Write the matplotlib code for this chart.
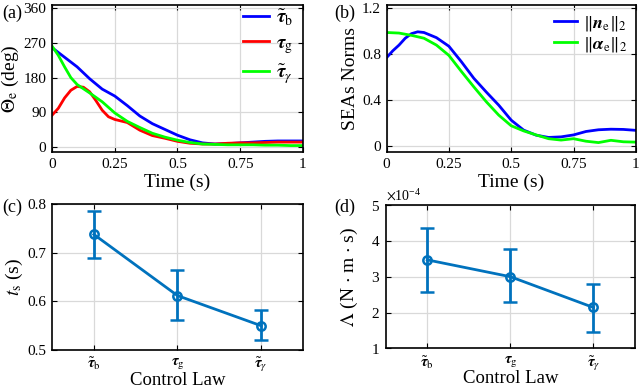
import matplotlib
matplotlib.use('Agg')
from matplotlib import pyplot as plt
from matplotlib.ticker import FormatStrFormatter, ScalarFormatter

plt.rcParams['font.family'] = ['Liberation Serif', 'DejaVu Serif']
plt.rcParams['mathtext.fontset'] = 'stix'

# (a) error angle for each control law
t_b = [0, 0.05, 0.1, 0.15, 0.2, 0.25, 0.3, 0.35, 0.4, 0.45, 0.5, 0.55, 0.6, 0.65, 0.7, 0.75, 0.8, 0.85, 0.9, 0.95, 1.0]
theta_b = [258, 233, 208, 177, 150, 132, 107, 80, 60, 45, 30, 18, 10, 7, 8, 10, 12, 14, 15, 15, 15]
t_g = [0, 0.025, 0.05, 0.075, 0.1, 0.125, 0.15, 0.175, 0.2, 0.225, 0.25, 0.3, 0.35, 0.4, 0.45, 0.5, 0.55, 0.6, 0.65, 0.7, 0.75, 0.8, 0.85, 0.9, 0.95, 1.0]
theta_g = [82, 100, 127, 147, 157, 155, 143, 120, 95, 78, 71, 63, 43, 29, 22, 14, 9, 7, 7, 9, 10, 10, 11, 12, 12, 12]
t_y = [0, 0.025, 0.05, 0.075, 0.1, 0.15, 0.2, 0.25, 0.3, 0.35, 0.4, 0.45, 0.5, 0.55, 0.6, 0.65, 0.7, 0.75, 0.8, 0.85, 0.9, 0.95, 1.0]
theta_y = [262, 238, 208, 180, 162, 140, 117, 88, 66, 50, 35, 25, 17, 11, 7, 6, 5, 5, 5, 4, 4, 3, 3]

# (b) SEA norms
t_n = [0, 0.025, 0.05, 0.075, 0.1, 0.125, 0.15, 0.2, 0.25, 0.3, 0.35, 0.4, 0.45, 0.5, 0.55, 0.6, 0.65, 0.7, 0.75, 0.8, 0.85, 0.9, 0.95, 1.0]
norm_n = [0.77, 0.83, 0.88, 0.94, 0.98, 0.996, 0.99, 0.945, 0.87, 0.735, 0.59, 0.47, 0.355, 0.224, 0.137, 0.093, 0.073, 0.078, 0.095, 0.125, 0.14, 0.145, 0.143, 0.135]
t_a = [0, 0.05, 0.1, 0.15, 0.2, 0.25, 0.3, 0.35, 0.4, 0.45, 0.5, 0.55, 0.6, 0.65, 0.7, 0.75, 0.8, 0.85, 0.9, 0.95, 1.0]
norm_a = [0.99, 0.985, 0.965, 0.94, 0.88, 0.79, 0.65, 0.515, 0.385, 0.268, 0.175, 0.13, 0.095, 0.062, 0.05, 0.062, 0.04, 0.028, 0.048, 0.035, 0.032]

# (c), (d) summary per control law
laws = [r'$\tilde{\boldsymbol{\tau}}_\mathrm{b}$', r'$\boldsymbol{\tau}_\mathrm{g}$', r'$\tilde{\boldsymbol{\tau}}_\gamma$']
ts_mean = [0.738, 0.612, 0.550]
ts_hi = [0.787, 0.665, 0.582]
ts_lo = [0.689, 0.561, 0.520]
lam_mean = [3.47e-4, 3.00e-4, 2.14e-4]
lam_hi = [4.37e-4, 3.76e-4, 2.81e-4]
lam_lo = [2.585e-4, 2.28e-4, 1.46e-4]

fig = plt.figure(figsize=(6.4, 3.87), dpi=100)
ax_a = fig.add_axes([0.0813, 0.607, 0.392, 0.380])
ax_b = fig.add_axes([0.604, 0.607, 0.3895, 0.380])
ax_c = fig.add_axes([0.0813, 0.0956, 0.392, 0.3765])
ax_d = fig.add_axes([0.6027, 0.100, 0.3895, 0.370])


def style(ax):
    ax.grid(True, color='#d9d9d9', linewidth=0.9)
    ax.set_axisbelow(True)
    ax.tick_params(direction='in', top=True, right=True, length=3.5, width=0.8, labelsize=11, pad=4)
    for s in ax.spines.values():
        s.set_linewidth(1.2)


# panel (a)
ax_a.plot(t_b, theta_b, c=(0, 0, 1), lw=2, label=r'$\tilde{\boldsymbol{\tau}}_\mathrm{b}$')
ax_a.plot(t_g, theta_g, c=(1, 0, 0), lw=2, label=r'$\boldsymbol{\tau}_\mathrm{g}$')
ax_a.plot(t_y, theta_y, c=(0, 1, 0), lw=2, label=r'$\tilde{\boldsymbol{\tau}}_\gamma$')
ax_a.set_xlim(0, 1)
ax_a.set_ylim(-14, 369)
ax_a.set_xticks([0, 0.25, 0.5, 0.75, 1])
ax_a.set_yticks([0, 90, 180, 270, 360])
ax_a.xaxis.set_major_formatter(FormatStrFormatter('%g'))
ax_a.set_xlabel('Time (s)', fontsize=14, labelpad=2)
ax_a.set_ylabel(r'$\Theta_\mathrm{e}$ (deg)', fontsize=14, labelpad=2)
ax_a.legend(loc='upper right', bbox_to_anchor=(1.0, 1.05), frameon=False, fontsize=14,
            handlelength=1.3, labelspacing=0.35, borderaxespad=0.1, handletextpad=0.4)
style(ax_a)

# panel (b)
ax_b.plot(t_n, norm_n, c=(0, 0, 1), lw=2, label=r'$\Vert\boldsymbol{n}_\mathrm{e}\Vert_2$')
ax_b.plot(t_a, norm_a, c=(0, 1, 0), lw=2, label=r'$\Vert\boldsymbol{\alpha}_\mathrm{e}\Vert_2$')
ax_b.set_xlim(0, 1)
ax_b.set_ylim(-0.055, 1.23)
ax_b.set_xticks([0, 0.25, 0.5, 0.75, 1])
ax_b.set_yticks([0, 0.4, 0.8, 1.2])
ax_b.xaxis.set_major_formatter(FormatStrFormatter('%g'))
ax_b.yaxis.set_major_formatter(FormatStrFormatter('%g'))
ax_b.set_xlabel('Time (s)', fontsize=14, labelpad=2)
ax_b.set_ylabel('SEAs Norms', fontsize=14, labelpad=2)
ax_b.legend(loc='upper right', frameon=False, fontsize=13, handlelength=1.3,
            labelspacing=0.1, borderaxespad=0.1, handletextpad=0.3)
style(ax_b)

# panel (c)
xs = [1, 2, 3]
blue = '#0072BD'
err_c = [[m - l for m, l in zip(ts_mean, ts_lo)], [h - m for m, h in zip(ts_mean, ts_hi)]]
ax_c.errorbar(xs, ts_mean, yerr=err_c, color=blue, lw=2, marker='o', ms=6, mfc='none',
              mew=1.8, capsize=5, capthick=2, elinewidth=2)
ax_c.set_xlim(0.5, 3.5)
ax_c.set_ylim(0.5, 0.8)
ax_c.set_xticks(xs)
ax_c.set_xticklabels(laws)
ax_c.set_yticks([0.5, 0.6, 0.7, 0.8])
ax_c.set_xlabel('Control Law', fontsize=13.5, labelpad=-2)
ax_c.set_ylabel(r'$t_\mathrm{s}$ (s)', fontsize=14, labelpad=2)
style(ax_c)

# panel (d)
err_d = [[m - l for m, l in zip(lam_mean, lam_lo)], [h - m for m, h in zip(lam_mean, lam_hi)]]
ax_d.errorbar(xs, lam_mean, yerr=err_d, color=blue, lw=2, marker='o', ms=6, mfc='none',
              mew=1.8, capsize=5, capthick=2, elinewidth=2)
ax_d.set_xlim(0.5, 3.5)
ax_d.set_ylim(1e-4, 5e-4)
ax_d.set_xticks(xs)
ax_d.set_xticklabels(laws)
ax_d.set_yticks([1e-4, 2e-4, 3e-4, 4e-4, 5e-4])
fmt = ScalarFormatter(useMathText=True)
fmt.set_powerlimits((0, 0))
ax_d.yaxis.set_major_formatter(fmt)
ax_d.yaxis.get_offset_text().set_fontsize(10)
ax_d.set_xlabel('Control Law', fontsize=13.5, labelpad=-2)
ax_d.set_ylabel(r'$\Lambda$ (N $\cdot$ m $\cdot$ s)', fontsize=14, labelpad=8)
style(ax_d)

# panel letters
fig.text(0.003, 0.965, '(a)', fontsize=13, va='center')
fig.text(0.523, 0.965, '(b)', fontsize=13, va='center')
fig.text(0.003, 0.465, '(c)', fontsize=13, va='center')
fig.text(0.523, 0.465, '(d)', fontsize=13, va='center')

fig.savefig('out.png', dpi=100)
